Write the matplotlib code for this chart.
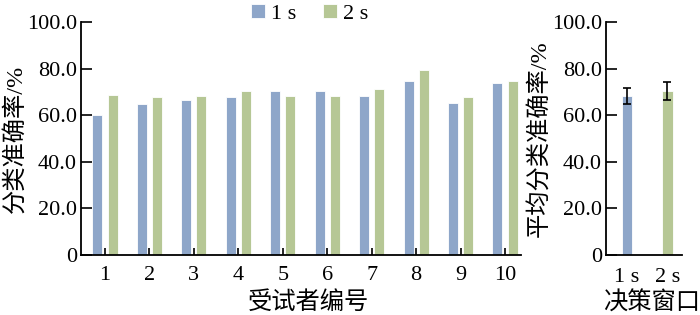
import matplotlib
matplotlib.use("Agg")
import matplotlib.pyplot as plt
import numpy as np
from matplotlib.ticker import FuncFormatter

plt.rcParams['font.family'] = ['Liberation Serif', 'Noto Sans CJK SC']
plt.rcParams['font.size'] = 16

subjects = ['1', '2', '3', '4', '5', '6', '7', '8', '9', '10']
acc_1s = [60.0, 64.7, 66.4, 67.6, 70.4, 70.4, 68.3, 74.8, 65.1, 73.8]
acc_2s = [68.8, 67.6, 68.3, 70.4, 68.3, 68.3, 71.1, 79.5, 67.6, 74.8]
windows = ['1 s', '2 s']
mean_acc = [68.3, 70.4]
err_acc = [3.4, 3.8]
yticks = [0, 20, 40, 60, 80, 100]

blue = '#8EA6C9'
green = '#B6C795'
lab_fs = 17.5

fig = plt.figure(figsize=(7, 3.15), dpi=100)
ax1 = fig.add_axes([81/700, 60/315, 440/700, 233/315])
ax2 = fig.add_axes([606/700, 60/315, 76/700, 233/315])

fmt = FuncFormatter(lambda v, p: '0' if v == 0 else f'{v:.1f}')

x = np.arange(len(subjects))
w = 0.225
b1 = ax1.bar(x - 0.17, acc_1s, w, color=blue, edgecolor='white', linewidth=0.6, label='1 s')
b2 = ax1.bar(x + 0.17, acc_2s, w, color=green, edgecolor='white', linewidth=0.6, label='2 s')
ax1.set_xlim(-0.54, 9.36)
ax1.set_ylim(0, 100)
ax1.set_xticks(x)
ax1.set_xticklabels(subjects)
ax1.set_yticks(yticks)
ax1.yaxis.set_major_formatter(fmt)
ax1.set_xlabel('受试者编号', labelpad=2, fontsize=lab_fs)
ax1.xaxis.set_label_coords(0.516, -0.155)
ax1.set_ylabel('分类准确率/%', labelpad=0, fontsize=lab_fs)
ax1.tick_params(axis='x', direction='in', length=5, width=1.2, pad=8)
ax1.tick_params(axis='y', direction='in', length=8, width=1.2, pad=3)

x2 = np.arange(len(windows))
ax2.bar(x2, mean_acc, 0.26, color=[blue, green], edgecolor='white', linewidth=0.6,
        yerr=err_acc, capsize=2.6, error_kw=dict(ecolor='black', elinewidth=1.2, capthick=1.2))
ax2.set_xlim(-0.52, 1.36)
ax2.set_ylim(0, 100)
ax2.set_xticks(x2)
ax2.set_xticklabels(windows)
ax2.set_yticks(yticks)
ax2.yaxis.set_major_formatter(fmt)
ax2.set_xlabel('决策窗口', labelpad=2, fontsize=lab_fs)
ax2.xaxis.set_label_coords(0.6, -0.155)
ax2.set_ylabel('平均分类准确率/%', labelpad=0, fontsize=lab_fs)
ax2.tick_params(axis='x', length=0, pad=9)
ax2.tick_params(axis='y', direction='in', length=8, width=1.2, pad=3)

for ax in (ax1, ax2):
    for s in ('top', 'right'):
        ax.spines[s].set_visible(False)
    for s in ('left', 'bottom'):
        ax.spines[s].set_linewidth(1.3)

fig.legend(handles=[b1, b2], loc='center', bbox_to_anchor=(310/700, 1 - 14/315), ncol=2,
           frameon=False, handlelength=0.6, handleheight=0.6, handletextpad=0.3,
           columnspacing=1.2, borderpad=0, fontsize=16)

fig.savefig('out.png', dpi=100)
